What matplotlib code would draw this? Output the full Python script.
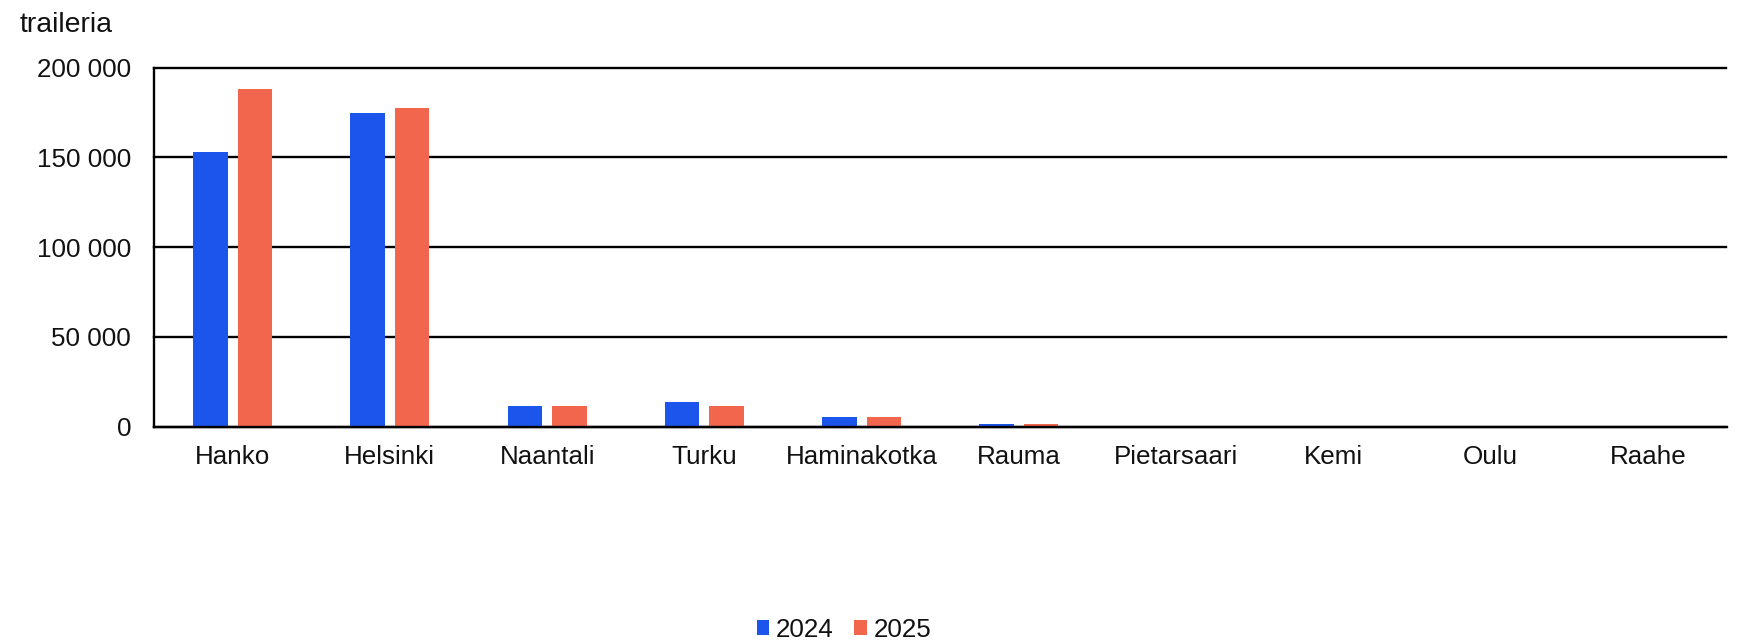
import matplotlib
matplotlib.use("Agg")
import matplotlib.pyplot as plt
import numpy as np
from matplotlib.ticker import FuncFormatter

plt.rcParams['font.family'] = ['Liberation Sans', 'DejaVu Sans']

categories = ["Hanko", "Helsinki", "Naantali", "Turku", "Haminakotka", "Rauma",
              "Pietarsaari", "Kemi", "Oulu", "Raahe"]
values_2024 = [153000, 175000, 11400, 13800, 5200, 1400, 0, 0, 0, 0]
values_2025 = [188000, 177500, 11400, 11500, 5200, 1300, 0, 0, 0, 0]
series_labels = ["2024", "2025"]
yticks = [0, 50000, 100000, 150000, 200000]

c2024 = "#1c55eb"
c2025 = "#f2664e"
fs = 18.7
tc = "#111111"

fig = plt.figure(figsize=(17.45, 6.41), dpi=100)
ax = fig.add_axes([154/1745, 1-426.7/641, (1726.5-154)/1745, (426.7-67.7)/641])

x = np.arange(len(categories))
w = 0.219
off = 0.142
ax.bar(x - off, values_2024, width=w, color=c2024, label=series_labels[0], zorder=3)
ax.bar(x + off, values_2025, width=w, color=c2025, label=series_labels[1], zorder=3)

ax.set_xlim(-0.5, len(categories) - 0.5)
ax.set_ylim(0, 200000)
ax.set_yticks(yticks)
ax.yaxis.set_major_formatter(FuncFormatter(lambda v, p: f"{int(v):,}".replace(",", " ")))
ax.set_xticks(x)
ax.set_xticklabels(categories)
ax.tick_params(axis='both', length=0, labelsize=fs, colors=tc)
ax.tick_params(axis='y', pad=16.5)
ax.tick_params(axis='x', pad=13)

ax.grid(axis='y', color='black', linewidth=1.7, zorder=1)
for gl in ax.get_ygridlines():
    gl.set_clip_on(False)
ax.set_axisbelow(True)
for s in ['top', 'right']:
    ax.spines[s].set_visible(False)
ax.spines['left'].set_color('black')
ax.spines['left'].set_linewidth(1.7)
ax.spines['bottom'].set_color('black')
ax.spines['bottom'].set_linewidth(1.7)
ax.spines['bottom'].set_zorder(4)

fig.text(20/1745, 1-32/641, "traileria", fontsize=20.5, va='baseline', ha='left', color=tc)

leg = fig.legend(loc='center', bbox_to_anchor=(844/1745, 1-630/641), ncol=2, frameon=False,
                 fontsize=fs, handlelength=0.49, handleheight=0.49, handletextpad=0.25,
                 columnspacing=0.8, borderpad=0.1)
for t in leg.get_texts():
    t.set_color(tc)

fig.savefig("out.png", dpi=100)
